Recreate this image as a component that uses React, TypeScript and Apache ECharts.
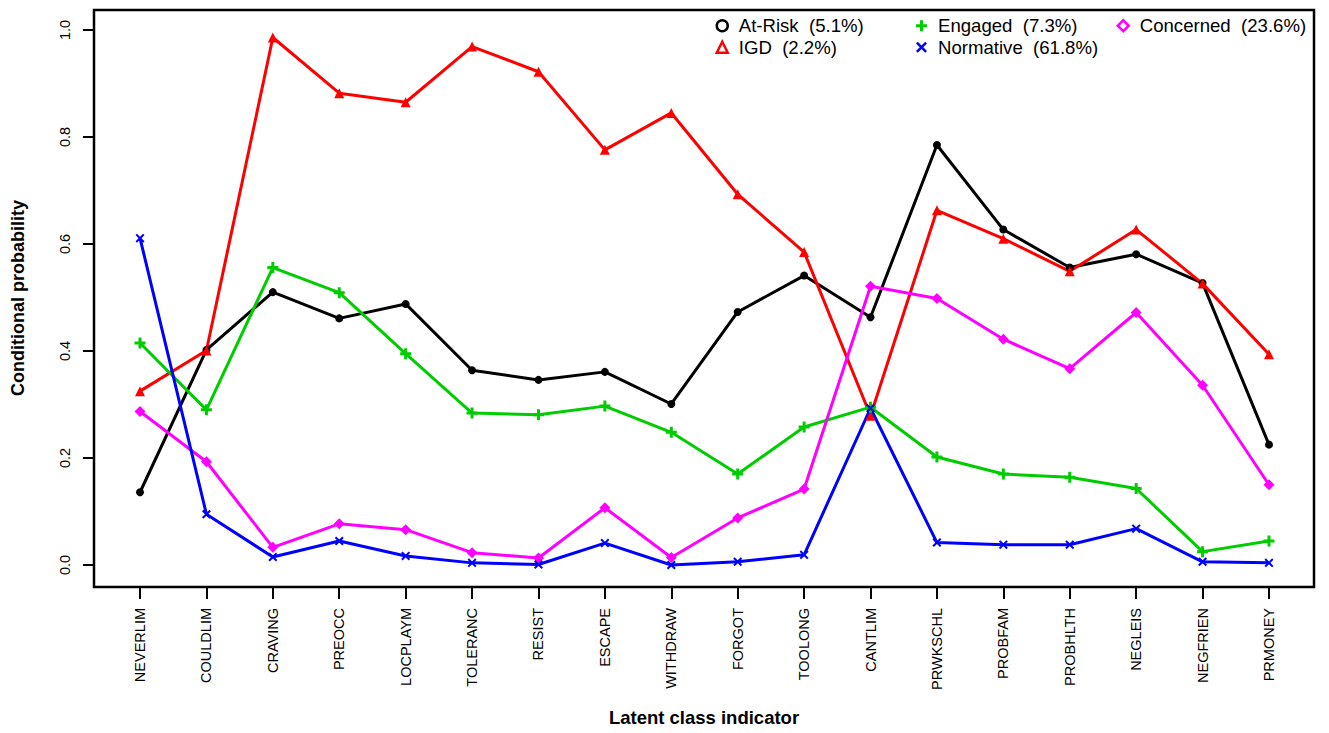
import React, { useEffect, useRef } from "react";
import * as echarts from "echarts";

const categories = [
  "NEVERLIM", "COULDLIM", "CRAVING", "PREOCC", "LOCPLAYM", "TOLERANC", "RESIST", "ESCAPE", "WITHDRAW",
  "FORGOT", "TOOLONG", "CANTLIM", "PRWKSCHL", "PROBFAM", "PROBHLTH", "NEGLEIS", "NEGFRIEN", "PRMONEY",
];

const atRisk = [0.136, 0.402, 0.51, 0.461, 0.488, 0.364, 0.346, 0.361, 0.301, 0.473, 0.541, 0.463, 0.785, 0.627, 0.556, 0.581, 0.527, 0.225];
const igd = [0.325, 0.401, 0.986, 0.882, 0.865, 0.969, 0.922, 0.776, 0.845, 0.693, 0.585, 0.279, 0.663, 0.61, 0.549, 0.627, 0.526, 0.394];
const engaged = [0.415, 0.29, 0.556, 0.509, 0.395, 0.284, 0.281, 0.297, 0.248, 0.17, 0.258, 0.295, 0.202, 0.17, 0.164, 0.143, 0.025, 0.045];
const normative = [0.611, 0.095, 0.015, 0.045, 0.017, 0.004, 0.001, 0.041, 0.0, 0.006, 0.019, 0.293, 0.042, 0.038, 0.038, 0.068, 0.006, 0.004];
const concerned = [0.287, 0.193, 0.033, 0.077, 0.066, 0.023, 0.013, 0.107, 0.014, 0.088, 0.142, 0.521, 0.498, 0.422, 0.367, 0.472, 0.336, 0.15];

const classNames = ["At-Risk", "IGD", "Engaged", "Normative", "Concerned"];
const classShares = ["5.1%", "2.2%", "7.3%", "61.8%", "23.6%"];
const yTicks = [0, 0.2, 0.4, 0.6, 0.8, 1.0];
const xTicks = categories.map((_, i) => i + 1);

const PLUS = "path://M4,0H7V4H11V7H7V11H4V7H0V4H4Z";
const CROSS = "path://M0,1.6L1.6,0L5,3.4L8.4,0L10,1.6L6.6,5L10,8.4L8.4,10L5,6.6L1.6,10L0,8.4L3.4,5Z";

export default function App() {
  const ref = useRef<HTMLDivElement>(null);
  useEffect(() => {
    const chart = echarts.init(ref.current!, null, { renderer: "svg" });
    const font = "'Liberation Sans', Arial, Helvetica, sans-serif";
    const shareOf = (n: string) => classShares[classNames.indexOf(n)];
    const legendText = { fontSize: 18.6, fontFamily: font, color: "#000", lineHeight: 21.5, padding: [0, 0, 0, 6] };

    const mkSeries = (name: string, values: number[], color: string, symbol: string, symbolSize: number) => ({
      name,
      type: "line",
      data: values.map((v, i) => [xTicks[i], v]),
      color,
      symbol,
      symbolSize,
      showAllSymbol: true,
      clip: false,
      lineStyle: { color, width: 3 },
      itemStyle: { color },
      emphasis: { disabled: true },
    });

    const mkLegend = (left: number, items: any[]) => ({
      orient: "vertical",
      left,
      top: 15,
      padding: 0,
      itemGap: 0,
      itemWidth: 11,
      itemHeight: 11,
      selectedMode: false,
      textStyle: legendText,
      formatter: (n: string) => `${n}  (${shareOf(n)})`,
      data: items,
    });

    chart.setOption({
      animation: false,
      backgroundColor: "#fff",
      grid: { left: 94, right: 15, top: 10, bottom: 146, containLabel: false },
      xAxis: {
        type: "value",
        min: 0.307,
        max: 18.678,
        axisLine: { show: false, onZero: false },
        axisTick: { show: true, length: 12, customValues: xTicks, lineStyle: { color: "#000", width: 2 } },
        axisLabel: {
          customValues: xTicks,
          rotate: 90,
          margin: 21,
          color: "#000",
          fontSize: 14.5,
          fontFamily: font,
          formatter: (v: number) => categories[Math.round(v) - 1] ?? "",
        },
        splitLine: { show: false },
      },
      yAxis: {
        type: "value",
        min: -0.0411,
        max: 1.0374,
        axisLine: { show: false, onZero: false },
        axisTick: { show: true, length: 11, customValues: yTicks, lineStyle: { color: "#000", width: 2 } },
        axisLabel: {
          customValues: yTicks,
          rotate: 90,
          margin: 22,
          color: "#000",
          fontSize: 14.5,
          fontFamily: font,
          formatter: (v: number) => v.toFixed(1),
        },
        splitLine: { show: false },
      },
      legend: [
        mkLegend(715.5, [
          { name: "At-Risk", icon: "circle", itemStyle: { color: "#fff", borderColor: "#000", borderWidth: 2.5 } },
          { name: "IGD", icon: "triangle", itemStyle: { color: "#fff", borderColor: "#ff0000", borderWidth: 2.5 } },
        ]),
        mkLegend(916, [
          { name: "Engaged", icon: PLUS, itemStyle: { color: "#00cd00", borderWidth: 0 } },
          { name: "Normative", icon: CROSS, itemStyle: { color: "#0000ff", borderWidth: 0 } },
        ]),
        mkLegend(1116.5, [
          { name: "Concerned", icon: "diamond", itemStyle: { color: "#fff", borderColor: "#ff00ff", borderWidth: 2.5 } },
        ]),
      ],
      graphic: [
        {
          type: "rect",
          shape: { x: 94, y: 10, width: 1220, height: 577 },
          style: { fill: "none", stroke: "#000", lineWidth: 2.5 },
          silent: true,
        },
        {
          type: "text",
          x: 18,
          y: 298,
          rotation: Math.PI / 2,
          style: {
            text: "Conditional probability",
            font: `bold 18px ${font}`,
            fill: "#000",
            textAlign: "center",
            textVerticalAlign: "middle",
          },
        },
        {
          type: "text",
          x: 704,
          y: 717,
          style: {
            text: "Latent class indicator",
            font: `bold 18.5px ${font}`,
            fill: "#000",
            textAlign: "center",
            textVerticalAlign: "middle",
          },
        },
      ],
      series: [
        mkSeries("At-Risk", atRisk, "#000000", "circle", 8),
        mkSeries("IGD", igd, "#ff0000", "triangle", 10),
        mkSeries("Engaged", engaged, "#00cd00", PLUS, 11),
        mkSeries("Concerned", concerned, "#ff00ff", "diamond", 11),
        mkSeries("Normative", normative, "#0000ff", CROSS, 9),
      ],
    });
    return () => chart.dispose();
  }, []);
  return (
    <div
      ref={ref}
      style={{ position: "absolute", left: 0, top: 0, width: 1329, height: 733, background: "#fff" }}
    />
  );
}
